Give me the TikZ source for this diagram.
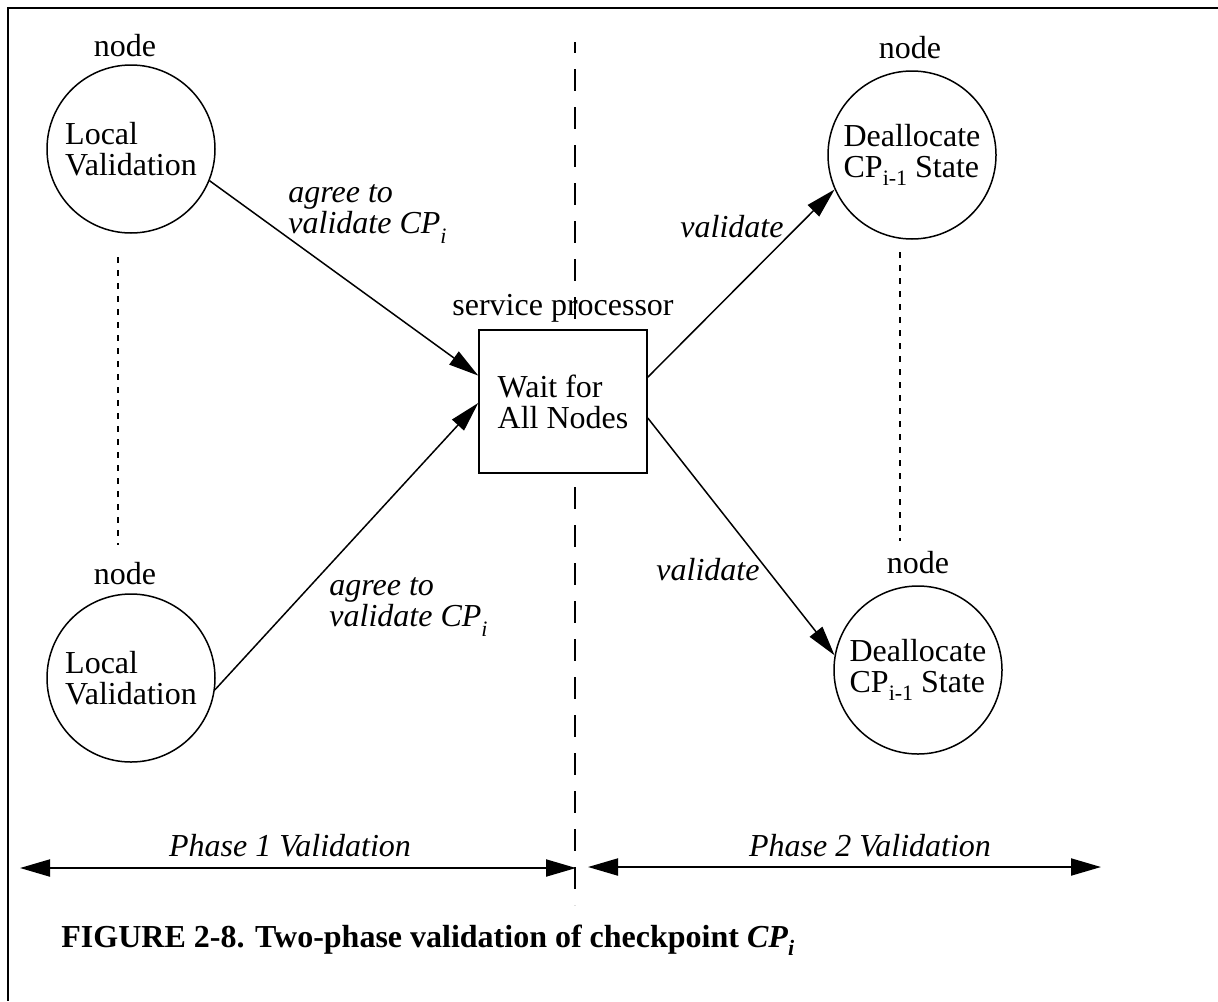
\documentclass[tikz,border=0pt]{standalone}
\usepackage{fontspec}
\setmainfont{Liberation Serif}
\usetikzlibrary{arrows.meta,calc}
% lowered, smaller text used for subscripts such as CP_i
\newcommand\sublow[2][4pt]{\raisebox{-#1}{\fontsize{11}{11}\selectfont #2}}
\begin{document}
\begin{tikzpicture}[x=0.5pt,y=-0.5pt,
  every node/.style={font=\fontsize{16}{15.5}\selectfont},
  proc/.style={circle,draw,line width=0.75pt,minimum size=84pt,inner sep=0pt,align=left},
  waitbox/.style={rectangle,draw,line width=0.75pt,fill=white,minimum width=84pt,
    minimum height=71.5pt,inner sep=0pt,align=left},
  flow/.style={line width=0.75pt,-{Triangle[length=15pt,width=8pt]}},
  span/.style={line width=1pt,{Triangle[length=15pt,width=8.5pt]}-{Triangle[length=15pt,width=8.5pt]}},
  msg/.style={font=\fontsize{16}{15.5}\selectfont\itshape,inner sep=0pt,anchor=base west},
  phase/.style={font=\fontsize{16}{15.5}\selectfont\itshape,inner sep=0pt,anchor=base},
  ellip/.style={line width=0.75pt,dash pattern=on 3pt off 3.5pt}
]
\useasboundingbox (0,0) rectangle (1218,1001);

% frame along the top and left edges
\draw[line width=1pt] (1218,8) -- (8,8) -- (8,1001);

% divider between the two phases
\coordinate (divtop) at (575,42);
\coordinate (divbot) at (575,905);
\draw[line width=1pt,dash pattern=on 11pt off 8pt,dash phase=5.5pt] (divtop) -- (divbot);

% participating nodes
\node[proc,label={[inner sep=3.5pt,xshift=-3pt]above:node}] (tl) at (131,149) {Local\\Validation};
\node[proc,label={[inner sep=4pt,xshift=-3pt]above:node}] (bl) at (131,678) {Local\\Validation};
\node[proc,label={[inner sep=5.5pt,xshift=-1pt]above:node}] (tr) at (912,155) {Deallocate\\CP\sublow{i-1} State};
\node[proc,label={[inner sep=5.5pt]above:node}] (br) at (918,670) {Deallocate\\CP\sublow{i-1} State};

% service processor
\node[waitbox,label={above:service processor}] (wait) at (563,401.5) {Wait for\\All Nodes};

% more nodes in between
\coordinate (ldt) at (118,257);
\coordinate (ldb) at (118,545);
\coordinate (rdt) at (900,252);
\coordinate (rdb) at (900,541);
\draw[ellip] (ldt) -- (ldb);
\draw[ellip] (rdt) -- (rdb);

% messages
\draw[flow] (tl.-22) -- (wait.163.7);
\draw[flow] (bl.-8) -- (wait.181);
\draw[flow] (wait.16.3) -- (tr.204);
\draw[flow] (wait.-11.1) -- (br.170);

\node[msg] (m1) at (288,202) {\begin{tabular}[t]{@{}l@{}}agree to\\validate CP\sublow[5pt]{i}\end{tabular}};
\node[msg] (m2) at (329,595) {\begin{tabular}[t]{@{}l@{}}agree to\\validate CP\sublow[5pt]{i}\end{tabular}};
\node[msg] (v1) at (680,237) {validate};
\node[msg] (v2) at (656,580) {validate};

% phase extents
\coordinate (p1l) at (20,868);
\coordinate (p1r) at (576,868);
\coordinate (p2l) at (588,867);
\coordinate (p2r) at (1101,867);
\draw[span] (p1l) -- (p1r);
\draw[span] (p2l) -- (p2r);
\node[phase] (ph1) at (290,856) {Phase 1 Validation};
\node[phase] (ph2) at (870,856) {Phase 2 Validation};

% caption
\node[anchor=base west,inner sep=0pt,font=\fontsize{16}{15.5}\selectfont\bfseries] (cap) at (61,947)
  {FIGURE 2-8. Two-phase validation of checkpoint \textit{CP}\sublow{\itshape i}};
\end{tikzpicture}
\end{document}
